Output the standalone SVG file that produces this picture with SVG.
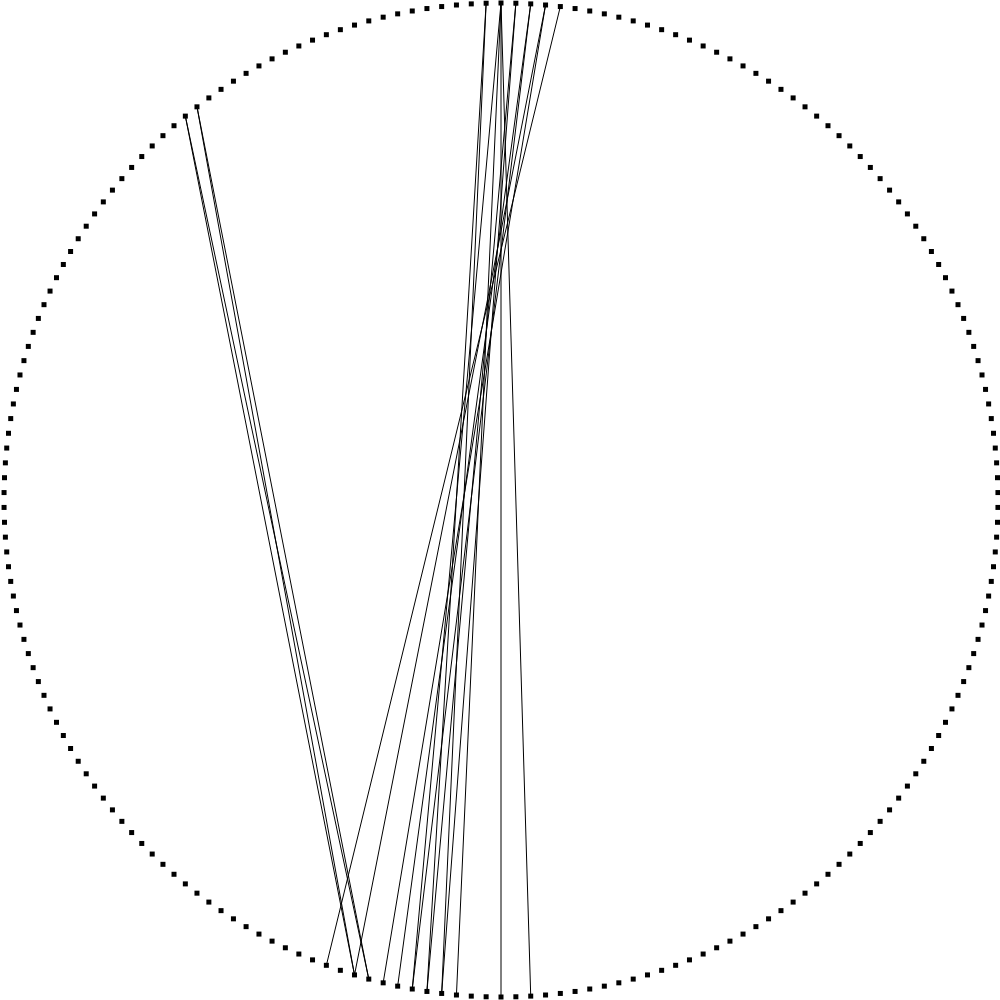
<svg xmlns="http://www.w3.org/2000/svg" xmlns:xlink="http://www.w3.org/1999/xlink" width="1000" height="1000" viewBox="0 0 1000 1000">
<defs>
<style>
.edge{stroke:#000;stroke-width:1;fill:none}
.node rect,#sq{fill:#000}
</style>
<rect id="sq" x="-2.5" y="-2.5" width="5" height="5"/>
</defs>
<rect x="0" y="0" width="1000" height="1000" fill="#fff"/>
<g id="edges">
<line class="edge" x1="185.34" y1="116.12" x2="354.51" y2="974.92"/>
<line class="edge" x1="185.34" y1="116.12" x2="368.78" y2="979.09"/>
<line class="edge" x1="196.99" y1="106.83" x2="354.51" y2="974.92"/>
<line class="edge" x1="196.99" y1="106.83" x2="368.78" y2="979.09"/>
<line class="edge" x1="486.13" y1="3.22" x2="441.66" y2="993.44"/>
<line class="edge" x1="486.13" y1="3.22" x2="426.93" y2="991.45"/>
<line class="edge" x1="501" y1="3" x2="501" y2="997"/>
<line class="edge" x1="501" y1="3" x2="530.72" y2="996.11"/>
<line class="edge" x1="501" y1="3" x2="412.26" y2="989"/>
<line class="edge" x1="501" y1="3" x2="456.45" y2="995"/>
<line class="edge" x1="515.87" y1="3.22" x2="426.93" y2="991.45"/>
<line class="edge" x1="515.87" y1="3.22" x2="441.66" y2="993.44"/>
<line class="edge" x1="530.72" y1="3.89" x2="412.26" y2="989"/>
<line class="edge" x1="530.72" y1="3.89" x2="397.67" y2="986.14"/>
<line class="edge" x1="545.55" y1="5" x2="354.51" y2="974.92"/>
<line class="edge" x1="545.55" y1="5" x2="383.17" y2="982.83"/>
<line class="edge" x1="560.34" y1="6.56" x2="326.37" y2="965.31"/>
</g>
<g id="nodes">
<g id="n0" class="node" transform="rotate(0 501 500) translate(501 3) rotate(0)"><use href="#sq"/></g>
<g id="n1" class="node" transform="rotate(1.7143 501 500) translate(501 3) rotate(-1.7143)"><use href="#sq"/></g>
<g id="n2" class="node" transform="rotate(3.4286 501 500) translate(501 3) rotate(-3.4286)"><use href="#sq"/></g>
<g id="n3" class="node" transform="rotate(5.1429 501 500) translate(501 3) rotate(-5.1429)"><use href="#sq"/></g>
<g id="n4" class="node" transform="rotate(6.8571 501 500) translate(501 3) rotate(-6.8571)"><use href="#sq"/></g>
<g id="n5" class="node" transform="rotate(8.5714 501 500) translate(501 3) rotate(-8.5714)"><use href="#sq"/></g>
<g id="n6" class="node" transform="rotate(10.2857 501 500) translate(501 3) rotate(-10.2857)"><use href="#sq"/></g>
<g id="n7" class="node" transform="rotate(12 501 500) translate(501 3) rotate(-12)"><use href="#sq"/></g>
<g id="n8" class="node" transform="rotate(13.7143 501 500) translate(501 3) rotate(-13.7143)"><use href="#sq"/></g>
<g id="n9" class="node" transform="rotate(15.4286 501 500) translate(501 3) rotate(-15.4286)"><use href="#sq"/></g>
<g id="n10" class="node" transform="rotate(17.1429 501 500) translate(501 3) rotate(-17.1429)"><use href="#sq"/></g>
<g id="n11" class="node" transform="rotate(18.8571 501 500) translate(501 3) rotate(-18.8571)"><use href="#sq"/></g>
<g id="n12" class="node" transform="rotate(20.5714 501 500) translate(501 3) rotate(-20.5714)"><use href="#sq"/></g>
<g id="n13" class="node" transform="rotate(22.2857 501 500) translate(501 3) rotate(-22.2857)"><use href="#sq"/></g>
<g id="n14" class="node" transform="rotate(24 501 500) translate(501 3) rotate(-24)"><use href="#sq"/></g>
<g id="n15" class="node" transform="rotate(25.7143 501 500) translate(501 3) rotate(-25.7143)"><use href="#sq"/></g>
<g id="n16" class="node" transform="rotate(27.4286 501 500) translate(501 3) rotate(-27.4286)"><use href="#sq"/></g>
<g id="n17" class="node" transform="rotate(29.1429 501 500) translate(501 3) rotate(-29.1429)"><use href="#sq"/></g>
<g id="n18" class="node" transform="rotate(30.8571 501 500) translate(501 3) rotate(-30.8571)"><use href="#sq"/></g>
<g id="n19" class="node" transform="rotate(32.5714 501 500) translate(501 3) rotate(-32.5714)"><use href="#sq"/></g>
<g id="n20" class="node" transform="rotate(34.2857 501 500) translate(501 3) rotate(-34.2857)"><use href="#sq"/></g>
<g id="n21" class="node" transform="rotate(36 501 500) translate(501 3) rotate(-36)"><use href="#sq"/></g>
<g id="n22" class="node" transform="rotate(37.7143 501 500) translate(501 3) rotate(-37.7143)"><use href="#sq"/></g>
<g id="n23" class="node" transform="rotate(39.4286 501 500) translate(501 3) rotate(-39.4286)"><use href="#sq"/></g>
<g id="n24" class="node" transform="rotate(41.1429 501 500) translate(501 3) rotate(-41.1429)"><use href="#sq"/></g>
<g id="n25" class="node" transform="rotate(42.8571 501 500) translate(501 3) rotate(-42.8571)"><use href="#sq"/></g>
<g id="n26" class="node" transform="rotate(44.5714 501 500) translate(501 3) rotate(-44.5714)"><use href="#sq"/></g>
<g id="n27" class="node" transform="rotate(46.2857 501 500) translate(501 3) rotate(-46.2857)"><use href="#sq"/></g>
<g id="n28" class="node" transform="rotate(48 501 500) translate(501 3) rotate(-48)"><use href="#sq"/></g>
<g id="n29" class="node" transform="rotate(49.7143 501 500) translate(501 3) rotate(-49.7143)"><use href="#sq"/></g>
<g id="n30" class="node" transform="rotate(51.4286 501 500) translate(501 3) rotate(-51.4286)"><use href="#sq"/></g>
<g id="n31" class="node" transform="rotate(53.1429 501 500) translate(501 3) rotate(-53.1429)"><use href="#sq"/></g>
<g id="n32" class="node" transform="rotate(54.8571 501 500) translate(501 3) rotate(-54.8571)"><use href="#sq"/></g>
<g id="n33" class="node" transform="rotate(56.5714 501 500) translate(501 3) rotate(-56.5714)"><use href="#sq"/></g>
<g id="n34" class="node" transform="rotate(58.2857 501 500) translate(501 3) rotate(-58.2857)"><use href="#sq"/></g>
<g id="n35" class="node" transform="rotate(60 501 500) translate(501 3) rotate(-60)"><use href="#sq"/></g>
<g id="n36" class="node" transform="rotate(61.7143 501 500) translate(501 3) rotate(-61.7143)"><use href="#sq"/></g>
<g id="n37" class="node" transform="rotate(63.4286 501 500) translate(501 3) rotate(-63.4286)"><use href="#sq"/></g>
<g id="n38" class="node" transform="rotate(65.1429 501 500) translate(501 3) rotate(-65.1429)"><use href="#sq"/></g>
<g id="n39" class="node" transform="rotate(66.8571 501 500) translate(501 3) rotate(-66.8571)"><use href="#sq"/></g>
<g id="n40" class="node" transform="rotate(68.5714 501 500) translate(501 3) rotate(-68.5714)"><use href="#sq"/></g>
<g id="n41" class="node" transform="rotate(70.2857 501 500) translate(501 3) rotate(-70.2857)"><use href="#sq"/></g>
<g id="n42" class="node" transform="rotate(72 501 500) translate(501 3) rotate(-72)"><use href="#sq"/></g>
<g id="n43" class="node" transform="rotate(73.7143 501 500) translate(501 3) rotate(-73.7143)"><use href="#sq"/></g>
<g id="n44" class="node" transform="rotate(75.4286 501 500) translate(501 3) rotate(-75.4286)"><use href="#sq"/></g>
<g id="n45" class="node" transform="rotate(77.1429 501 500) translate(501 3) rotate(-77.1429)"><use href="#sq"/></g>
<g id="n46" class="node" transform="rotate(78.8571 501 500) translate(501 3) rotate(-78.8571)"><use href="#sq"/></g>
<g id="n47" class="node" transform="rotate(80.5714 501 500) translate(501 3) rotate(-80.5714)"><use href="#sq"/></g>
<g id="n48" class="node" transform="rotate(82.2857 501 500) translate(501 3) rotate(-82.2857)"><use href="#sq"/></g>
<g id="n49" class="node" transform="rotate(84 501 500) translate(501 3) rotate(-84)"><use href="#sq"/></g>
<g id="n50" class="node" transform="rotate(85.7143 501 500) translate(501 3) rotate(-85.7143)"><use href="#sq"/></g>
<g id="n51" class="node" transform="rotate(87.4286 501 500) translate(501 3) rotate(-87.4286)"><use href="#sq"/></g>
<g id="n52" class="node" transform="rotate(89.1429 501 500) translate(501 3) rotate(-89.1429)"><use href="#sq"/></g>
<g id="n53" class="node" transform="rotate(90.8571 501 500) translate(501 3) rotate(-90.8571)"><use href="#sq"/></g>
<g id="n54" class="node" transform="rotate(92.5714 501 500) translate(501 3) rotate(-92.5714)"><use href="#sq"/></g>
<g id="n55" class="node" transform="rotate(94.2857 501 500) translate(501 3) rotate(-94.2857)"><use href="#sq"/></g>
<g id="n56" class="node" transform="rotate(96 501 500) translate(501 3) rotate(-96)"><use href="#sq"/></g>
<g id="n57" class="node" transform="rotate(97.7143 501 500) translate(501 3) rotate(-97.7143)"><use href="#sq"/></g>
<g id="n58" class="node" transform="rotate(99.4286 501 500) translate(501 3) rotate(-99.4286)"><use href="#sq"/></g>
<g id="n59" class="node" transform="rotate(101.1429 501 500) translate(501 3) rotate(-101.1429)"><use href="#sq"/></g>
<g id="n60" class="node" transform="rotate(102.8571 501 500) translate(501 3) rotate(-102.8571)"><use href="#sq"/></g>
<g id="n61" class="node" transform="rotate(104.5714 501 500) translate(501 3) rotate(-104.5714)"><use href="#sq"/></g>
<g id="n62" class="node" transform="rotate(106.2857 501 500) translate(501 3) rotate(-106.2857)"><use href="#sq"/></g>
<g id="n63" class="node" transform="rotate(108 501 500) translate(501 3) rotate(-108)"><use href="#sq"/></g>
<g id="n64" class="node" transform="rotate(109.7143 501 500) translate(501 3) rotate(-109.7143)"><use href="#sq"/></g>
<g id="n65" class="node" transform="rotate(111.4286 501 500) translate(501 3) rotate(-111.4286)"><use href="#sq"/></g>
<g id="n66" class="node" transform="rotate(113.1429 501 500) translate(501 3) rotate(-113.1429)"><use href="#sq"/></g>
<g id="n67" class="node" transform="rotate(114.8571 501 500) translate(501 3) rotate(-114.8571)"><use href="#sq"/></g>
<g id="n68" class="node" transform="rotate(116.5714 501 500) translate(501 3) rotate(-116.5714)"><use href="#sq"/></g>
<g id="n69" class="node" transform="rotate(118.2857 501 500) translate(501 3) rotate(-118.2857)"><use href="#sq"/></g>
<g id="n70" class="node" transform="rotate(120 501 500) translate(501 3) rotate(-120)"><use href="#sq"/></g>
<g id="n71" class="node" transform="rotate(121.7143 501 500) translate(501 3) rotate(-121.7143)"><use href="#sq"/></g>
<g id="n72" class="node" transform="rotate(123.4286 501 500) translate(501 3) rotate(-123.4286)"><use href="#sq"/></g>
<g id="n73" class="node" transform="rotate(125.1429 501 500) translate(501 3) rotate(-125.1429)"><use href="#sq"/></g>
<g id="n74" class="node" transform="rotate(126.8571 501 500) translate(501 3) rotate(-126.8571)"><use href="#sq"/></g>
<g id="n75" class="node" transform="rotate(128.5714 501 500) translate(501 3) rotate(-128.5714)"><use href="#sq"/></g>
<g id="n76" class="node" transform="rotate(130.2857 501 500) translate(501 3) rotate(-130.2857)"><use href="#sq"/></g>
<g id="n77" class="node" transform="rotate(132 501 500) translate(501 3) rotate(-132)"><use href="#sq"/></g>
<g id="n78" class="node" transform="rotate(133.7143 501 500) translate(501 3) rotate(-133.7143)"><use href="#sq"/></g>
<g id="n79" class="node" transform="rotate(135.4286 501 500) translate(501 3) rotate(-135.4286)"><use href="#sq"/></g>
<g id="n80" class="node" transform="rotate(137.1429 501 500) translate(501 3) rotate(-137.1429)"><use href="#sq"/></g>
<g id="n81" class="node" transform="rotate(138.8571 501 500) translate(501 3) rotate(-138.8571)"><use href="#sq"/></g>
<g id="n82" class="node" transform="rotate(140.5714 501 500) translate(501 3) rotate(-140.5714)"><use href="#sq"/></g>
<g id="n83" class="node" transform="rotate(142.2857 501 500) translate(501 3) rotate(-142.2857)"><use href="#sq"/></g>
<g id="n84" class="node" transform="rotate(144 501 500) translate(501 3) rotate(-144)"><use href="#sq"/></g>
<g id="n85" class="node" transform="rotate(145.7143 501 500) translate(501 3) rotate(-145.7143)"><use href="#sq"/></g>
<g id="n86" class="node" transform="rotate(147.4286 501 500) translate(501 3) rotate(-147.4286)"><use href="#sq"/></g>
<g id="n87" class="node" transform="rotate(149.1429 501 500) translate(501 3) rotate(-149.1429)"><use href="#sq"/></g>
<g id="n88" class="node" transform="rotate(150.8571 501 500) translate(501 3) rotate(-150.8571)"><use href="#sq"/></g>
<g id="n89" class="node" transform="rotate(152.5714 501 500) translate(501 3) rotate(-152.5714)"><use href="#sq"/></g>
<g id="n90" class="node" transform="rotate(154.2857 501 500) translate(501 3) rotate(-154.2857)"><use href="#sq"/></g>
<g id="n91" class="node" transform="rotate(156 501 500) translate(501 3) rotate(-156)"><use href="#sq"/></g>
<g id="n92" class="node" transform="rotate(157.7143 501 500) translate(501 3) rotate(-157.7143)"><use href="#sq"/></g>
<g id="n93" class="node" transform="rotate(159.4286 501 500) translate(501 3) rotate(-159.4286)"><use href="#sq"/></g>
<g id="n94" class="node" transform="rotate(161.1429 501 500) translate(501 3) rotate(-161.1429)"><use href="#sq"/></g>
<g id="n95" class="node" transform="rotate(162.8571 501 500) translate(501 3) rotate(-162.8571)"><use href="#sq"/></g>
<g id="n96" class="node" transform="rotate(164.5714 501 500) translate(501 3) rotate(-164.5714)"><use href="#sq"/></g>
<g id="n97" class="node" transform="rotate(166.2857 501 500) translate(501 3) rotate(-166.2857)"><use href="#sq"/></g>
<g id="n98" class="node" transform="rotate(168 501 500) translate(501 3) rotate(-168)"><use href="#sq"/></g>
<g id="n99" class="node" transform="rotate(169.7143 501 500) translate(501 3) rotate(-169.7143)"><use href="#sq"/></g>
<g id="n100" class="node" transform="rotate(171.4286 501 500) translate(501 3) rotate(-171.4286)"><use href="#sq"/></g>
<g id="n101" class="node" transform="rotate(173.1429 501 500) translate(501 3) rotate(-173.1429)"><use href="#sq"/></g>
<g id="n102" class="node" transform="rotate(174.8571 501 500) translate(501 3) rotate(-174.8571)"><use href="#sq"/></g>
<g id="n103" class="node" transform="rotate(176.5714 501 500) translate(501 3) rotate(-176.5714)"><use href="#sq"/></g>
<g id="n104" class="node" transform="rotate(178.2857 501 500) translate(501 3) rotate(-178.2857)"><use href="#sq"/></g>
<g id="n105" class="node" transform="rotate(180 501 500) translate(501 3) rotate(-180)"><use href="#sq"/></g>
<g id="n106" class="node" transform="rotate(181.7143 501 500) translate(501 3) rotate(-181.7143)"><use href="#sq"/></g>
<g id="n107" class="node" transform="rotate(183.4286 501 500) translate(501 3) rotate(-183.4286)"><use href="#sq"/></g>
<g id="n108" class="node" transform="rotate(185.1429 501 500) translate(501 3) rotate(-185.1429)"><use href="#sq"/></g>
<g id="n109" class="node" transform="rotate(186.8571 501 500) translate(501 3) rotate(-186.8571)"><use href="#sq"/></g>
<g id="n110" class="node" transform="rotate(188.5714 501 500) translate(501 3) rotate(-188.5714)"><use href="#sq"/></g>
<g id="n111" class="node" transform="rotate(190.2857 501 500) translate(501 3) rotate(-190.2857)"><use href="#sq"/></g>
<g id="n112" class="node" transform="rotate(192 501 500) translate(501 3) rotate(-192)"><use href="#sq"/></g>
<g id="n113" class="node" transform="rotate(193.7143 501 500) translate(501 3) rotate(-193.7143)"><use href="#sq"/></g>
<g id="n114" class="node" transform="rotate(195.4286 501 500) translate(501 3) rotate(-195.4286)"><use href="#sq"/></g>
<g id="n115" class="node" transform="rotate(197.1429 501 500) translate(501 3) rotate(-197.1429)"><use href="#sq"/></g>
<g id="n116" class="node" transform="rotate(198.8571 501 500) translate(501 3) rotate(-198.8571)"><use href="#sq"/></g>
<g id="n117" class="node" transform="rotate(200.5714 501 500) translate(501 3) rotate(-200.5714)"><use href="#sq"/></g>
<g id="n118" class="node" transform="rotate(202.2857 501 500) translate(501 3) rotate(-202.2857)"><use href="#sq"/></g>
<g id="n119" class="node" transform="rotate(204 501 500) translate(501 3) rotate(-204)"><use href="#sq"/></g>
<g id="n120" class="node" transform="rotate(205.7143 501 500) translate(501 3) rotate(-205.7143)"><use href="#sq"/></g>
<g id="n121" class="node" transform="rotate(207.4286 501 500) translate(501 3) rotate(-207.4286)"><use href="#sq"/></g>
<g id="n122" class="node" transform="rotate(209.1429 501 500) translate(501 3) rotate(-209.1429)"><use href="#sq"/></g>
<g id="n123" class="node" transform="rotate(210.8571 501 500) translate(501 3) rotate(-210.8571)"><use href="#sq"/></g>
<g id="n124" class="node" transform="rotate(212.5714 501 500) translate(501 3) rotate(-212.5714)"><use href="#sq"/></g>
<g id="n125" class="node" transform="rotate(214.2857 501 500) translate(501 3) rotate(-214.2857)"><use href="#sq"/></g>
<g id="n126" class="node" transform="rotate(216 501 500) translate(501 3) rotate(-216)"><use href="#sq"/></g>
<g id="n127" class="node" transform="rotate(217.7143 501 500) translate(501 3) rotate(-217.7143)"><use href="#sq"/></g>
<g id="n128" class="node" transform="rotate(219.4286 501 500) translate(501 3) rotate(-219.4286)"><use href="#sq"/></g>
<g id="n129" class="node" transform="rotate(221.1429 501 500) translate(501 3) rotate(-221.1429)"><use href="#sq"/></g>
<g id="n130" class="node" transform="rotate(222.8571 501 500) translate(501 3) rotate(-222.8571)"><use href="#sq"/></g>
<g id="n131" class="node" transform="rotate(224.5714 501 500) translate(501 3) rotate(-224.5714)"><use href="#sq"/></g>
<g id="n132" class="node" transform="rotate(226.2857 501 500) translate(501 3) rotate(-226.2857)"><use href="#sq"/></g>
<g id="n133" class="node" transform="rotate(228 501 500) translate(501 3) rotate(-228)"><use href="#sq"/></g>
<g id="n134" class="node" transform="rotate(229.7143 501 500) translate(501 3) rotate(-229.7143)"><use href="#sq"/></g>
<g id="n135" class="node" transform="rotate(231.4286 501 500) translate(501 3) rotate(-231.4286)"><use href="#sq"/></g>
<g id="n136" class="node" transform="rotate(233.1429 501 500) translate(501 3) rotate(-233.1429)"><use href="#sq"/></g>
<g id="n137" class="node" transform="rotate(234.8571 501 500) translate(501 3) rotate(-234.8571)"><use href="#sq"/></g>
<g id="n138" class="node" transform="rotate(236.5714 501 500) translate(501 3) rotate(-236.5714)"><use href="#sq"/></g>
<g id="n139" class="node" transform="rotate(238.2857 501 500) translate(501 3) rotate(-238.2857)"><use href="#sq"/></g>
<g id="n140" class="node" transform="rotate(240 501 500) translate(501 3) rotate(-240)"><use href="#sq"/></g>
<g id="n141" class="node" transform="rotate(241.7143 501 500) translate(501 3) rotate(-241.7143)"><use href="#sq"/></g>
<g id="n142" class="node" transform="rotate(243.4286 501 500) translate(501 3) rotate(-243.4286)"><use href="#sq"/></g>
<g id="n143" class="node" transform="rotate(245.1429 501 500) translate(501 3) rotate(-245.1429)"><use href="#sq"/></g>
<g id="n144" class="node" transform="rotate(246.8571 501 500) translate(501 3) rotate(-246.8571)"><use href="#sq"/></g>
<g id="n145" class="node" transform="rotate(248.5714 501 500) translate(501 3) rotate(-248.5714)"><use href="#sq"/></g>
<g id="n146" class="node" transform="rotate(250.2857 501 500) translate(501 3) rotate(-250.2857)"><use href="#sq"/></g>
<g id="n147" class="node" transform="rotate(252 501 500) translate(501 3) rotate(-252)"><use href="#sq"/></g>
<g id="n148" class="node" transform="rotate(253.7143 501 500) translate(501 3) rotate(-253.7143)"><use href="#sq"/></g>
<g id="n149" class="node" transform="rotate(255.4286 501 500) translate(501 3) rotate(-255.4286)"><use href="#sq"/></g>
<g id="n150" class="node" transform="rotate(257.1429 501 500) translate(501 3) rotate(-257.1429)"><use href="#sq"/></g>
<g id="n151" class="node" transform="rotate(258.8571 501 500) translate(501 3) rotate(-258.8571)"><use href="#sq"/></g>
<g id="n152" class="node" transform="rotate(260.5714 501 500) translate(501 3) rotate(-260.5714)"><use href="#sq"/></g>
<g id="n153" class="node" transform="rotate(262.2857 501 500) translate(501 3) rotate(-262.2857)"><use href="#sq"/></g>
<g id="n154" class="node" transform="rotate(264 501 500) translate(501 3) rotate(-264)"><use href="#sq"/></g>
<g id="n155" class="node" transform="rotate(265.7143 501 500) translate(501 3) rotate(-265.7143)"><use href="#sq"/></g>
<g id="n156" class="node" transform="rotate(267.4286 501 500) translate(501 3) rotate(-267.4286)"><use href="#sq"/></g>
<g id="n157" class="node" transform="rotate(269.1429 501 500) translate(501 3) rotate(-269.1429)"><use href="#sq"/></g>
<g id="n158" class="node" transform="rotate(270.8571 501 500) translate(501 3) rotate(-270.8571)"><use href="#sq"/></g>
<g id="n159" class="node" transform="rotate(272.5714 501 500) translate(501 3) rotate(-272.5714)"><use href="#sq"/></g>
<g id="n160" class="node" transform="rotate(274.2857 501 500) translate(501 3) rotate(-274.2857)"><use href="#sq"/></g>
<g id="n161" class="node" transform="rotate(276 501 500) translate(501 3) rotate(-276)"><use href="#sq"/></g>
<g id="n162" class="node" transform="rotate(277.7143 501 500) translate(501 3) rotate(-277.7143)"><use href="#sq"/></g>
<g id="n163" class="node" transform="rotate(279.4286 501 500) translate(501 3) rotate(-279.4286)"><use href="#sq"/></g>
<g id="n164" class="node" transform="rotate(281.1429 501 500) translate(501 3) rotate(-281.1429)"><use href="#sq"/></g>
<g id="n165" class="node" transform="rotate(282.8571 501 500) translate(501 3) rotate(-282.8571)"><use href="#sq"/></g>
<g id="n166" class="node" transform="rotate(284.5714 501 500) translate(501 3) rotate(-284.5714)"><use href="#sq"/></g>
<g id="n167" class="node" transform="rotate(286.2857 501 500) translate(501 3) rotate(-286.2857)"><use href="#sq"/></g>
<g id="n168" class="node" transform="rotate(288 501 500) translate(501 3) rotate(-288)"><use href="#sq"/></g>
<g id="n169" class="node" transform="rotate(289.7143 501 500) translate(501 3) rotate(-289.7143)"><use href="#sq"/></g>
<g id="n170" class="node" transform="rotate(291.4286 501 500) translate(501 3) rotate(-291.4286)"><use href="#sq"/></g>
<g id="n171" class="node" transform="rotate(293.1429 501 500) translate(501 3) rotate(-293.1429)"><use href="#sq"/></g>
<g id="n172" class="node" transform="rotate(294.8571 501 500) translate(501 3) rotate(-294.8571)"><use href="#sq"/></g>
<g id="n173" class="node" transform="rotate(296.5714 501 500) translate(501 3) rotate(-296.5714)"><use href="#sq"/></g>
<g id="n174" class="node" transform="rotate(298.2857 501 500) translate(501 3) rotate(-298.2857)"><use href="#sq"/></g>
<g id="n175" class="node" transform="rotate(300 501 500) translate(501 3) rotate(-300)"><use href="#sq"/></g>
<g id="n176" class="node" transform="rotate(301.7143 501 500) translate(501 3) rotate(-301.7143)"><use href="#sq"/></g>
<g id="n177" class="node" transform="rotate(303.4286 501 500) translate(501 3) rotate(-303.4286)"><use href="#sq"/></g>
<g id="n178" class="node" transform="rotate(305.1429 501 500) translate(501 3) rotate(-305.1429)"><use href="#sq"/></g>
<g id="n179" class="node" transform="rotate(306.8571 501 500) translate(501 3) rotate(-306.8571)"><use href="#sq"/></g>
<g id="n180" class="node" transform="rotate(308.5714 501 500) translate(501 3) rotate(-308.5714)"><use href="#sq"/></g>
<g id="n181" class="node" transform="rotate(310.2857 501 500) translate(501 3) rotate(-310.2857)"><use href="#sq"/></g>
<g id="n182" class="node" transform="rotate(312 501 500) translate(501 3) rotate(-312)"><use href="#sq"/></g>
<g id="n183" class="node" transform="rotate(313.7143 501 500) translate(501 3) rotate(-313.7143)"><use href="#sq"/></g>
<g id="n184" class="node" transform="rotate(315.4286 501 500) translate(501 3) rotate(-315.4286)"><use href="#sq"/></g>
<g id="n185" class="node" transform="rotate(317.1429 501 500) translate(501 3) rotate(-317.1429)"><use href="#sq"/></g>
<g id="n186" class="node" transform="rotate(318.8571 501 500) translate(501 3) rotate(-318.8571)"><use href="#sq"/></g>
<g id="n187" class="node" transform="rotate(320.5714 501 500) translate(501 3) rotate(-320.5714)"><use href="#sq"/></g>
<g id="n188" class="node" transform="rotate(322.2857 501 500) translate(501 3) rotate(-322.2857)"><use href="#sq"/></g>
<g id="n189" class="node" transform="rotate(324 501 500) translate(501 3) rotate(-324)"><use href="#sq"/></g>
<g id="n190" class="node" transform="rotate(325.7143 501 500) translate(501 3) rotate(-325.7143)"><use href="#sq"/></g>
<g id="n191" class="node" transform="rotate(327.4286 501 500) translate(501 3) rotate(-327.4286)"><use href="#sq"/></g>
<g id="n192" class="node" transform="rotate(329.1429 501 500) translate(501 3) rotate(-329.1429)"><use href="#sq"/></g>
<g id="n193" class="node" transform="rotate(330.8571 501 500) translate(501 3) rotate(-330.8571)"><use href="#sq"/></g>
<g id="n194" class="node" transform="rotate(332.5714 501 500) translate(501 3) rotate(-332.5714)"><use href="#sq"/></g>
<g id="n195" class="node" transform="rotate(334.2857 501 500) translate(501 3) rotate(-334.2857)"><use href="#sq"/></g>
<g id="n196" class="node" transform="rotate(336 501 500) translate(501 3) rotate(-336)"><use href="#sq"/></g>
<g id="n197" class="node" transform="rotate(337.7143 501 500) translate(501 3) rotate(-337.7143)"><use href="#sq"/></g>
<g id="n198" class="node" transform="rotate(339.4286 501 500) translate(501 3) rotate(-339.4286)"><use href="#sq"/></g>
<g id="n199" class="node" transform="rotate(341.1429 501 500) translate(501 3) rotate(-341.1429)"><use href="#sq"/></g>
<g id="n200" class="node" transform="rotate(342.8571 501 500) translate(501 3) rotate(-342.8571)"><use href="#sq"/></g>
<g id="n201" class="node" transform="rotate(344.5714 501 500) translate(501 3) rotate(-344.5714)"><use href="#sq"/></g>
<g id="n202" class="node" transform="rotate(346.2857 501 500) translate(501 3) rotate(-346.2857)"><use href="#sq"/></g>
<g id="n203" class="node" transform="rotate(348 501 500) translate(501 3) rotate(-348)"><use href="#sq"/></g>
<g id="n204" class="node" transform="rotate(349.7143 501 500) translate(501 3) rotate(-349.7143)"><use href="#sq"/></g>
<g id="n205" class="node" transform="rotate(351.4286 501 500) translate(501 3) rotate(-351.4286)"><use href="#sq"/></g>
<g id="n206" class="node" transform="rotate(353.1429 501 500) translate(501 3) rotate(-353.1429)"><use href="#sq"/></g>
<g id="n207" class="node" transform="rotate(354.8571 501 500) translate(501 3) rotate(-354.8571)"><use href="#sq"/></g>
<g id="n208" class="node" transform="rotate(356.5714 501 500) translate(501 3) rotate(-356.5714)"><use href="#sq"/></g>
<g id="n209" class="node" transform="rotate(358.2857 501 500) translate(501 3) rotate(-358.2857)"><use href="#sq"/></g>
</g>
</svg>
